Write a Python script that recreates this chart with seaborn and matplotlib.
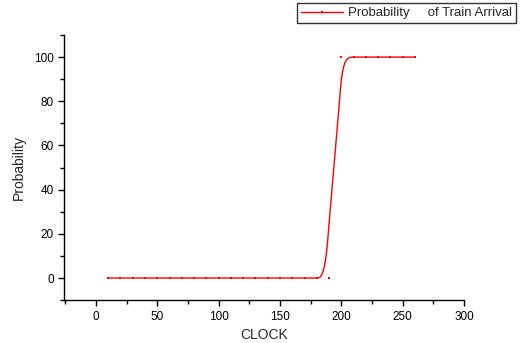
import matplotlib
matplotlib.use("Agg")
import matplotlib.pyplot as plt
import seaborn as sns
from matplotlib.lines import Line2D
from matplotlib.ticker import MultipleLocator

# measured samples (every 10 clock ticks)
clock = [10, 20, 30, 40, 50, 60, 70, 80, 90, 100, 110, 120, 130, 140, 150,
         160, 170, 180, 190, 200, 210, 220, 230, 240, 250, 260]
prob = [0, 0, 0, 0, 0, 0, 0, 0, 0, 0, 0, 0, 0, 0, 0,
        0, 0, 0, 0, 100, 100, 100, 100, 100, 100, 100]

# smoothed curve
curve_x = [10, 180, 181, 182, 183, 184, 185, 186, 187, 188, 189, 190,
           192, 194, 196, 198, 199, 200, 201, 202, 203, 204, 205, 206,
           207, 208, 209, 260]
curve_y = [0, 0, 0.05, 0.2, 0.6, 1.5, 3, 5, 8, 12, 18, 25,
           38, 51, 64, 77, 84, 90, 93.5, 96, 97.6, 98.6, 99.2, 99.6,
           99.8, 99.95, 100, 100]

legend_label = "Probability     of Train Arrival"

sns.set_theme(style="ticks")
plt.rcParams['font.family'] = ['Liberation Sans', 'DejaVu Sans']

fig = plt.figure(figsize=(5.25, 3.43), dpi=100)
ax = fig.add_axes([0.122, 0.125, 0.762, 0.773])

sns.lineplot(x=curve_x, y=curve_y, color='red', linewidth=1.0, ax=ax)
sns.scatterplot(x=clock, y=prob, color='red', marker='s', s=2,
                linewidth=0, ax=ax)

ax.set_xlim(-26, 300)
ax.set_ylim(-10, 110)
ax.xaxis.set_major_locator(MultipleLocator(50))
ax.xaxis.set_minor_locator(MultipleLocator(25))
ax.yaxis.set_major_locator(MultipleLocator(20))
ax.yaxis.set_minor_locator(MultipleLocator(10))
ax.tick_params(axis='both', which='major', direction='out', length=4,
               width=1, labelsize=8.5, color='black', labelcolor='black')
ax.tick_params(axis='both', which='minor', direction='out', length=3,
               width=1, color='black')

for side in ['top', 'right']:
    ax.spines[side].set_visible(False)
for side in ['left', 'bottom']:
    ax.spines[side].set_color('black')
    ax.spines[side].set_linewidth(1)

ax.set_xlabel('CLOCK', fontsize=10, labelpad=4)
ax.set_ylabel('Probability', fontsize=10, labelpad=6)

handle = Line2D([0], [0], color='red', linewidth=1.0, marker='s',
                markersize=1.5, markeredgewidth=0)
leg = fig.legend([handle], [legend_label], loc='upper left',
                 bbox_to_anchor=(297 / 525, 1 - 3 / 343), fontsize=9.5,
                 frameon=True, fancybox=False, handlelength=3.2,
                 borderpad=0.3, handletextpad=0.4, borderaxespad=0)
leg.get_frame().set_edgecolor('black')
leg.get_frame().set_linewidth(1)

fig.savefig('out.png', dpi=100)
